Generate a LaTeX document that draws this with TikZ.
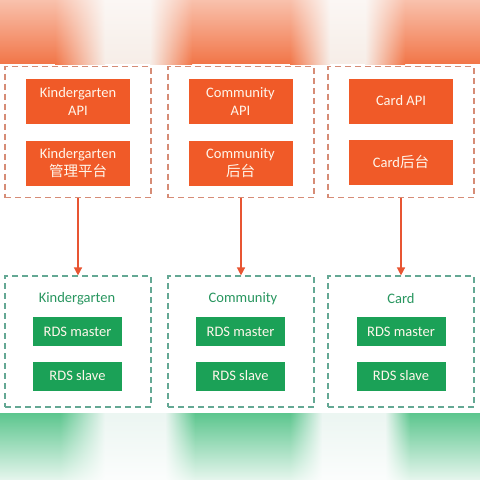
\documentclass[tikz,border=0pt]{standalone}
\usepackage{fontspec}
\setmainfont{Carlito}
\newfontfamily\cjk{Noto Sans CJK SC}
\usetikzlibrary{fadings,arrows.meta}
\definecolor{orbox}{RGB}{240,90,40}
\definecolor{orband}{RGB}{242,118,72}
\definecolor{orpale}{RGB}{247,238,232}
\definecolor{grbox}{RGB}{27,161,87}
\definecolor{grband}{RGB}{92,198,142}
\definecolor{grpale}{RGB}{236,246,242}
\definecolor{ordash}{RGB}{214,140,118}
\definecolor{grdash}{RGB}{100,168,148}
\definecolor{grtext}{RGB}{40,150,95}
\definecolor{arrowc}{RGB}{232,85,50}
\definecolor{boxtext}{RGB}{255,246,235}
\tikzfading[name=topfade, top color=transparent!45, bottom color=transparent!100]
\tikzfading[name=botfade, top color=transparent!100, bottom color=transparent!15]
\begin{document}
\begin{tikzpicture}[x=1pt,y=-1pt,
  every node/.style={font=\fontsize{14.5}{18}\selectfont, align=center, inner sep=0pt},
  obox/.style={fill=orbox, text=boxtext, minimum width=104pt, minimum height=45pt},
  gbox/.style={fill=grbox, text=boxtext, minimum width=89pt, minimum height=29pt},
  ogroup/.style={draw=ordash, line width=1.2pt, dash pattern=on 6pt off 4pt, minimum width=146pt, minimum height=131pt},
  ggroup/.style={draw=grdash, line width=1.2pt, dash pattern=on 6pt off 4pt, minimum width=146pt, minimum height=131pt},
  glabel/.style={text=grtext},
  link/.style={draw=arrowc, line width=1.5pt, -{Triangle[length=8pt,width=8pt]}}
]
\useasboundingbox (0,0) rectangle (480,480);
\fill[white] (0,0) rectangle (480,480);
% top band
\fill[orband] (0,0) rectangle (55,64);
\shade[left color=orband, right color=orpale] (55,0) rectangle (105,64);
\fill[orpale] (105,0) rectangle (150,64);
\shade[left color=orpale, right color=orband] (150,0) rectangle (192,64);
\fill[orband] (192,0) rectangle (290,64);
\shade[left color=orband, right color=orpale] (290,0) rectangle (330,64);
\fill[orpale] (330,0) rectangle (365,64);
\shade[left color=orpale, right color=orband] (365,0) rectangle (405,64);
\fill[orband] (405,0) rectangle (480,64);
\fill[white, path fading=topfade] (0,0) rectangle (480,64);
% bottom band
\fill[grband] (0,413) rectangle (60,480);
\shade[left color=grband, right color=grpale] (60,413) rectangle (105,480);
\fill[grpale] (105,413) rectangle (165,480);
\shade[left color=grpale, right color=grband] (165,413) rectangle (195,480);
\fill[grband] (195,413) rectangle (290,480);
\shade[left color=grband, right color=grpale] (290,413) rectangle (322,480);
\fill[grpale] (322,413) rectangle (385,480);
\shade[left color=grpale, right color=grband] (385,413) rectangle (410,480);
\fill[grband] (410,413) rectangle (480,480);
\fill[white, path fading=botfade] (0,413) rectangle (480,480);

% top groups
\node[ogroup] (tk) at (78,132) {};
\node[ogroup] (tc) at (241,132) {};
\node[ogroup] (td) at (401,132) {};
\node[obox] (ka) at (78,101.5) {Kindergarten\\API};
\node[obox] (kb) at (78,163.5) {Kindergarten\\{\cjk 管理平台}};
\node[obox] (ca) at (240.5,101.5) {Community\\API};
\node[obox] (cb) at (240.5,163.5) {Community\\{\cjk 后台}};
\node[obox] (da) at (401,101) {Card API};
\node[obox] (db) at (401,162) {Card{\cjk 后台}};

% bottom groups
\node[ggroup] (bk) at (78,341.5) {};
\node[ggroup] (bc) at (241,341.5) {};
\node[ggroup] (bd) at (401,341.5) {};
\node[glabel] (lk) at (77,299) {Kindergarten};
\node[glabel] (lc) at (243,299) {Community};
\node[glabel] (ld) at (401,299) {Card};
\node[gbox] (km) at (77.5,331.5) {RDS master};
\node[gbox] (ks) at (77.5,376) {RDS slave};
\node[gbox] (cm) at (240.5,331.5) {RDS master};
\node[gbox] (cs) at (240.5,376) {RDS slave};
\node[gbox] (dm) at (401,331.5) {RDS master};
\node[gbox] (ds) at (401,376) {RDS slave};

% arrows
\draw[link] (tk.south) -- (bk.north);
\draw[link] (tc.south) -- (bc.north);
\draw[link] (td.south) -- (bd.north);
\end{tikzpicture}
\end{document}
